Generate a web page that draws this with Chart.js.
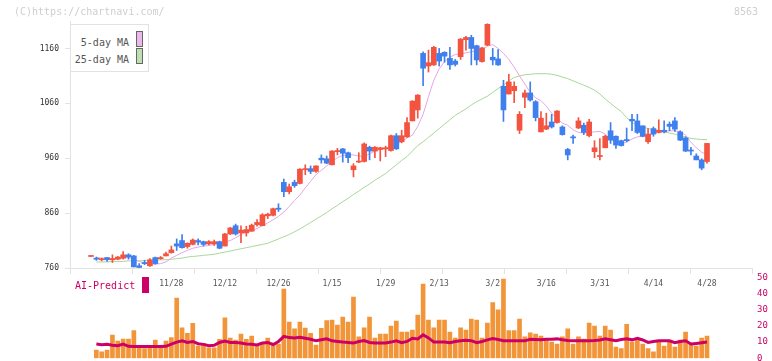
<!DOCTYPE html>
<html>
<head>
<meta charset="utf-8">
<script src="https://cdn.jsdelivr.net/npm/chart.js@4.4.1/dist/chart.umd.min.js"></script>
<style>
  body { margin: 0; background: #fff; }
  #wrap { position: relative; width: 772px; height: 361px; overflow: hidden; font-family: "DejaVu Sans Mono", monospace; }
  #priceChart, #volumeChart { position: absolute; left: 0; }
  #priceChart { top: 0; }
  #volumeChart { top: 270px; }
  .note { position: absolute; top: 6px; font-size: 10px; line-height: 12px; color: #cfcfcf; }
  #legendBox { position: absolute; left: 70px; top: 24px; width: 77px; height: 46px; border: 1px solid #e2e2e2; background: #fff; font-size: 10px; line-height: 12px; color: #555; }
  #legendBox span { position: absolute; right: 19px; }
  #legendBox i { position: absolute; left: 65px; width: 5px; height: 14px; border: 1px solid #666; }
  #aiLabel { position: absolute; left: 75px; top: 280px; font-size: 10px; line-height: 12px; color: #cc0066; }
  #aiMark { position: absolute; left: 142px; top: 277px; width: 7px; height: 16px; background: #cc0066; }
</style>
</head>
<body>
<div id="wrap">
  <canvas id="priceChart" width="772" height="300"></canvas>
  <canvas id="volumeChart" width="772" height="91"></canvas>
  <div class="note" style="left:14px">(C)https://chartnavi.com/</div>
  <div class="note" style="left:734px">8563</div>
  <div id="legendBox">
    <span style="top:12px">5-day MA</span><i style="top:6px;background:#ecb8ec"></i>
    <span style="top:29px">25-day MA</span><i style="top:23px;background:#bde0b0"></i>
  </div>
  <div id="aiLabel">AI-Predict</div>
  <div id="aiMark"></div>
</div>
<script>
// tick labels on the date axis and the candle index they sit under
const dateLabels = ["11/28", "12/12", "12/26", "1/15", "1/29", "2/13", "3/2", "3/16", "3/31", "4/14", "4/28"];
const labelIndex = [15, 25, 35, 45, 55, 65, 75, 85, 95, 105, 115];
const priceTicks = [760, 860, 960, 1060, 1160];

const open = [
  781, 778, 775, 779, 775, 776, 778, 784, 782, 764, 770, 764, 779, 777, 782, 788, 804, 810, 799, 803,
  810, 808, 804, 804, 808, 800, 822, 837, 824, 824, 827, 839, 837, 855, 856, 869, 916, 899, 916, 914,
  939, 941, 936, 960, 959, 948, 972, 977, 970, 939, 953, 954, 980, 973, 976, 977, 974, 1001, 990, 999,
  1028, 1048, 1151, 1128, 1130, 1151, 1153, 1142, 1137, 1145, 1176, 1180, 1165, 1136, 1166, 1144, 1141, 1091, 1077, 1083,
  1011, 1071, 1079, 1063, 1008, 1013, 1026, 1025, 1017, 976, 999, 1015, 1020, 1001, 972, 963, 979, 1010, 1000, 992,
  994, 1031, 1028, 1019, 990, 1014, 1007, 1011, 1022, 1028, 1008, 997, 975, 964, 957, 954
];
const high = [
  782, 780, 778, 779, 784, 781, 790, 786, 783, 768, 774, 777, 780, 781, 789, 800, 813, 821, 806, 813,
  813, 809, 810, 811, 809, 823, 834, 840, 837, 836, 840, 848, 859, 860, 869, 877, 922, 913, 920, 941,
  948, 946, 946, 966, 964, 974, 978, 978, 971, 950, 970, 988, 982, 981, 980, 982, 1002, 1005, 1011, 1034,
  1065, 1076, 1154, 1157, 1164, 1160, 1154, 1162, 1140, 1178, 1182, 1184, 1166, 1162, 1205, 1160, 1158, 1102, 1113, 1099,
  1045, 1084, 1099, 1065, 1045, 1042, 1040, 1047, 1019, 978, 1002, 1034, 1024, 1031, 992, 996, 1002, 1025, 1001, 993,
  1015, 1040, 1040, 1019, 1014, 1017, 1030, 1028, 1026, 1034, 1010, 999, 980, 968, 959, 987
];
const low = [
  781, 774, 773, 772, 770, 775, 776, 776, 762, 760, 766, 763, 767, 776, 782, 787, 792, 796, 796, 802,
  802, 800, 802, 801, 795, 800, 821, 820, 806, 818, 827, 836, 837, 850, 855, 863, 890, 895, 907, 913,
  930, 932, 934, 951, 950, 948, 966, 953, 952, 926, 952, 953, 957, 961, 955, 963, 973, 976, 988, 998,
  1028, 1033, 1092, 1117, 1129, 1128, 1135, 1122, 1128, 1140, 1157, 1130, 1130, 1135, 1165, 1130, 1129, 1027, 1077, 1061,
  1005, 1052, 1064, 1028, 1008, 1012, 1015, 1024, 1002, 957, 987, 1014, 1003, 999, 961, 957, 979, 987, 978, 982,
  990, 1010, 1005, 999, 987, 1000, 1006, 1006, 1010, 1009, 992, 972, 966, 957, 939, 951
];
const close = [
  782, 776, 776, 775, 777, 780, 784, 780, 762, 761, 768, 775, 768, 779, 786, 793, 800, 797, 805, 811,
  807, 803, 808, 808, 796, 822, 833, 822, 829, 830, 838, 843, 857, 858, 868, 867, 899, 908, 910, 940,
  941, 936, 946, 957, 951, 973, 974, 969, 961, 946, 954, 986, 973, 980, 979, 979, 1001, 977, 1001, 1025,
  1064, 1075, 1124, 1134, 1162, 1137, 1146, 1130, 1131, 1177, 1180, 1160, 1139, 1161, 1204, 1139, 1130, 1048, 1099, 1091,
  1040, 1079, 1066, 1034, 1033, 1019, 1017, 1046, 1003, 966, 997, 1028, 1007, 1026, 979, 965, 1000, 993, 984, 983,
  992, 1028, 1007, 1000, 1004, 1004, 1011, 1008, 1018, 1013, 993, 973, 973, 957, 942, 987
];
const ma5 = [
  null, 779, 778, 778, 777, 777, 778, 779, 776, 772, 769, 767, 767, 768, 771, 778, 783, 788, 792, 796,
  798, 800, 801, 803, 805, 808, 810, 815, 821, 826, 828, 832, 837, 842, 848, 854, 862, 872, 883, 893,
  906, 918, 930, 938, 946, 954, 961, 965, 966, 966, 964, 963, 968, 973, 976, 978, 982, 985, 990, 997,
  1002, 1018, 1040, 1072, 1102, 1123, 1136, 1144, 1149, 1150, 1152, 1154, 1156, 1158, 1164, 1167, 1160, 1151, 1140, 1126,
  1110, 1095, 1080, 1070, 1065, 1055, 1042, 1032, 1024, 1020, 1012, 1007, 1006, 1007, 1008, 1009, 1004, 994, 990, 987,
  989, 995, 999, 1000, 1001, 1005, 1007, 1009, 1010, 1010, 1008, 1002, 989, 979, 971, 966
];
const ma25 = [
  null, 771, 771, 771, 772, 772, 772, 773, 773, 773, 774, 774, 774, 775, 775, 776, 777, 778, 780, 781,
  782, 783, 784, 785, 787, 789, 791, 793, 795, 797, 799, 801, 803, 805, 809, 813, 817, 821, 826, 831,
  837, 843, 849, 855, 861, 868, 874, 881, 887, 894, 900, 907, 913, 920, 926, 932, 940, 948, 956, 963,
  973, 983, 990, 998, 1006, 1014, 1022, 1030, 1038, 1044, 1050, 1057, 1063, 1068, 1073, 1080, 1087, 1093, 1101, 1107,
  1110, 1112, 1113, 1114, 1114, 1114, 1113, 1111, 1108, 1105, 1101, 1097, 1093, 1089, 1084, 1077, 1068, 1060, 1052, 1045,
  1034, 1025, 1020, 1017, 1014, 1012, 1010, 1008, 1006, 1004, 1001, 999, 996, 995, 994, 994
];
const volume = [
  null, 5, 4, 5, 14.4, 10.7, 11.9, 11.9, 17.1, 7.1, 6, 7.5, 11.3, 7.5, 10.7, 12.8, 37.4, 18.8, 15.5, 21.7,
  7.5, 9.1, 6.5, 6.5, 11.7, 25, 12.5, 11.3, 15, 11.7, 13.8, 7.5, 8.7, 12.5, 9.6, 8.7, 43, 22.5, 18.2, 22.5,
  18.7, 15.5, 8.2, 18.6, 23.3, 23.7, 20.6, 25.6, 22.5, 38, 13.2, 18.8, 25.6, 12.5, 15, 15, 20, 23, 16.3, 16.3,
  17.5, 26.8, 46, 23.7, 18.8, 23.7, 23.7, 16.3, 12.5, 18.8, 17.5, 24.3, 23.7, 12.5, 21.8, 34.5, 30, 49.2, 17.1, 17.1,
  24.3, 13.2, 15.7, 15, 13.8, 12, 10, 8.7, 13.2, 18.2, 8.7, 13.2, 11.9, 21.8, 20, 13.8, 20, 17.5, 6.9, 6,
  21.1, 10, 11.7, 8.7, 6, 4, 10, 7.5, 10, 6.9, 11.3, 16.3, 8.7, 7.5, 12.5, 13.8
];
const aiPredict = [
  null, 8.8, 8.4, 8.6, 8.0, 7.8, 8.8, 7.4, 7.2, 7.2, 7.2, 7.2, 7.2, 7.2, 7.4, 8.8, 10.0, 10.8, 9.8, 10.4,
  9.0, 8.6, 7.8, 8.0, 9.8, 10.6, 9.8, 9.8, 9.4, 8.8, 8.6, 8.2, 9.4, 9.8, 8.4, 10.4, 13.6, 12.8, 12.6, 13.0,
  12.4, 11.8, 10.8, 11.4, 12.0, 10.8, 10.4, 10.0, 9.8, 9.4, 10.4, 11.0, 9.8, 9.4, 9.4, 9.4, 10.0, 10.8, 9.6, 10.4,
  12.4, 12.0, 14.6, 12.6, 10.0, 10.0, 10.0, 9.6, 10.4, 10.8, 11.2, 10.9, 9.6, 10.4, 11.4, 12.2, 11.6, 10.8, 10.8, 10.8,
  10.8, 10.8, 11.8, 11.6, 11.4, 11.8, 11.8, 12.0, 11.4, 11.0, 10.8, 10.8, 10.8, 10.8, 11.0, 11.3, 12.0, 11.4, 10.8, 11.6,
  12.0, 11.4, 12.4, 11.3, 9.8, 10.4, 10.8, 10.8, 10.8, 9.6, 10.4, 10.8, 8.8, 9.2, 9.6, 10.0
];

const upColor = "#f3533f";
const downColor = "#3f7fee";
const xMin = -3.92;
const xMax = 123.4;

const candleColors = close.map((c, i) => (c >= open[i] ? upColor : downColor));
const asPoints = arr => arr.map((v, i) => ({ x: i, y: v }));

new Chart(document.getElementById("priceChart"), {
  data: {
    datasets: [
      {
        type: "bar",
        order: 0,
        xAxisID: "x",
        yAxisID: "y",
        data: open.map((o, i) => ({ x: i, y: [Math.min(o, close[i]), Math.max(o, close[i])] })),
        backgroundColor: candleColors,
        barThickness: 5,
        minBarLength: 1,
        grouped: false
      },
      {
        type: "bar",
        order: 1,
        xAxisID: "x",
        yAxisID: "y",
        data: low.map((l, i) => ({ x: i, y: [l, high[i]] })),
        backgroundColor: candleColors,
        barThickness: 1,
        minBarLength: 1,
        grouped: false
      },
      {
        type: "line",
        order: 2,
        xAxisID: "x",
        yAxisID: "y",
        data: asPoints(ma5),
        borderColor: "#e4a6e4",
        borderWidth: 1,
        pointRadius: 0
      },
      {
        type: "line",
        order: 3,
        xAxisID: "x",
        yAxisID: "y",
        data: asPoints(ma25),
        borderColor: "#a9d69a",
        borderWidth: 1,
        pointRadius: 0
      }
    ]
  },
  options: {
    responsive: false,
    animation: false,
    events: [],
    layout: { padding: { top: 21, right: 20, left: 0, bottom: 0 } },
    plugins: { legend: { display: false }, tooltip: { enabled: false } },
    scales: {
      xg: {
        type: "linear",
        position: "bottom",
        weight: 0,
        offset: false,
        min: 0,
        max: 11,
        ticks: { display: false, stepSize: 1 },
        grid: { drawOnChartArea: false, offset: false, tickLength: 6, color: "#e2e2e2" },
        border: { color: "#e2e2e2" },
        afterFit: scale => { scale.height = 6; }
      },
      x: {
        type: "linear",
        position: "bottom",
        weight: 1,
        offset: false,
        min: xMin,
        max: xMax,
        grid: { display: false, drawTicks: false, offset: false },
        border: { display: false },
        afterBuildTicks: scale => { scale.ticks = labelIndex.map(v => ({ value: v })); },
        ticks: {
          autoSkip: false,
          maxRotation: 0,
          padding: 5,
          color: "#555",
          font: { family: "DejaVu Sans Mono", size: 8 },
          callback: (value, index) => dateLabels[index]
        },
        afterFit: scale => { scale.height = 26; }
      },
      y: {
        type: "linear",
        position: "left",
        min: 760,
        max: 1210,
        afterBuildTicks: scale => { scale.ticks = priceTicks.map(v => ({ value: v })); },
        ticks: {
          padding: 6,
          color: "#333",
          font: { family: "DejaVu Sans Mono", size: 8 },
          callback: value => String(value)
        },
        grid: { drawOnChartArea: false, tickLength: 5, color: "#e2e2e2" },
        border: { color: "#e2e2e2" },
        afterFit: scale => { scale.width = 70; }
      }
    }
  }
});

new Chart(document.getElementById("volumeChart"), {
  data: {
    datasets: [
      {
        type: "line",
        order: 0,
        data: asPoints(aiPredict),
        borderColor: "#cc0066",
        borderWidth: 3,
        pointRadius: 0
      },
      {
        type: "bar",
        order: 1,
        data: asPoints(volume),
        backgroundColor: "#f29438",
        barThickness: 4,
        grouped: false
      }
    ]
  },
  options: {
    responsive: false,
    animation: false,
    events: [],
    layout: { padding: { top: 7.7, right: 0, left: 70, bottom: 2.8 } },
    plugins: { legend: { display: false }, tooltip: { enabled: false } },
    scales: {
      x: { type: "linear", offset: false, min: xMin, max: xMax, display: false },
      y: {
        type: "linear",
        position: "right",
        min: 0,
        max: 50,
        ticks: {
          stepSize: 10,
          padding: 5,
          color: "#cc0066",
          font: { family: "DejaVu Sans Mono", size: 9 }
        },
        grid: { display: false, drawTicks: false },
        border: { display: false },
        afterFit: scale => {
          scale.width = 20;
          scale.paddingTop = 0;
          scale.paddingBottom = 0;
        }
      }
    }
  }
});
</script>
</body>
</html>
